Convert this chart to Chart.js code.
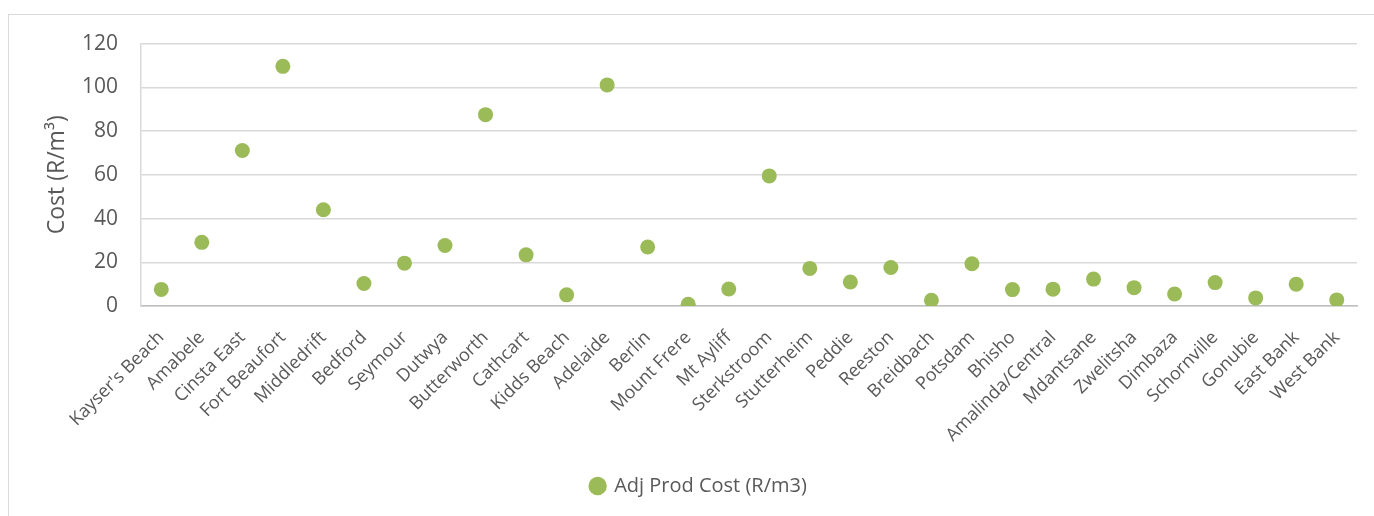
<!DOCTYPE html>
<html>
<head>
<meta charset="utf-8">
<script src="https://cdn.jsdelivr.net/npm/chart.js@4.4.1/dist/chart.umd.min.js"></script>
<style>
    html, body { margin: 0; padding: 0; background: #fff; overflow: hidden; }
    #frame {
        position: absolute;
        left: 8px;
        top: 14px;
        width: 1390px;
        height: 510px;
        border: 1px solid #d9d9d9;
    }
</style>
</head>
<body>
<div id="frame"><canvas id="chartCusto" width="1390" height="510"></canvas></div>
<script>
const locais = ["Kayser's Beach", 'Amabele', 'Cinsta East', 'Fort Beaufort', 'Middledrift', 'Bedford',
    'Seymour', 'Dutwya', 'Butterworth', 'Cathcart', 'Kidds Beach', 'Adelaide', 'Berlin', 'Mount Frere',
    'Mt Ayliff', 'Sterkstroom', 'Stutterheim', 'Peddie', 'Reeston', 'Breidbach', 'Potsdam', 'Bhisho',
    'Amalinda/Central', 'Mdantsane', 'Zwelitsha', 'Dimbaza', 'Schornville', 'Gonubie', 'East Bank', 'West Bank'];

const custoAjustado = [7.6, 29.1, 71.1, 109.6, 44.0, 10.3, 19.6, 27.7, 87.5, 23.4, 5.1, 101.1, 27.0, 0.8,
    7.8, 59.5, 17.2, 11.0, 17.6, 2.6, 19.3, 7.5, 7.7, 12.3, 8.4, 5.5, 10.7, 3.7, 10.0, 2.8];

const ticksY = [0, 20, 40, 60, 80, 100, 120];

const verde = '#9BBB59';
const cinzaTexto = '#595959';
const fonte = "'Open Sans', sans-serif";

const ctx = document.getElementById('chartCusto').getContext('2d');
const grafico = new Chart(ctx, {
    type: 'line',
    data: {
        labels: locais,
        datasets: [{
            label: 'Adj Prod Cost (R/m3)',
            data: custoAjustado,
            showLine: false,
            backgroundColor: verde,
            borderColor: verde,
            pointRadius: 7.5,
            pointBorderWidth: 0,
            pointStyle: 'circle'
        }]
    },
    options: {
        responsive: false,
        animation: false,
        layout: {
            padding: { left: 32, right: 42, top: 20, bottom: 19 }
        },
        scales: {
            x: {
                offset: true,
                grid: { display: false, drawTicks: false },
                border: { display: true, color: '#bfbfbf', width: 1.5 },
                ticks: {
                    autoSkip: false,
                    minRotation: 45,
                    maxRotation: 45,
                    padding: 21,
                    color: cinzaTexto,
                    font: { family: fonte, size: 18 }
                },
                afterFit: (scale) => { scale.height = 160; }
            },
            y: {
                min: 0,
                max: 120,
                afterBuildTicks: (scale) => { scale.ticks = ticksY.map(v => ({ value: v })); },
                // marcas invisíveis só para afastar os rótulos do eixo
                grid: { color: '#d9d9d9', lineWidth: 1.5, drawTicks: true, tickLength: 7, tickColor: 'rgba(0,0,0,0)' },
                border: { display: true, color: '#d9d9d9', width: 1.5 },
                ticks: {
                    padding: 16,
                    color: cinzaTexto,
                    font: { family: fonte, size: 21 }
                },
                title: {
                    display: true,
                    text: 'Cost (R/m³)',
                    color: cinzaTexto,
                    font: { family: fonte, size: 23 },
                    padding: { top: 3, bottom: 4 }
                },
                afterFit: (scale) => { scale.width = 100; }
            }
        },
        plugins: {
            legend: {
                display: true,
                position: 'bottom',
                labels: {
                    usePointStyle: true,
                    boxWidth: 13,
                    boxHeight: 13,
                    padding: 10,
                    color: cinzaTexto,
                    font: { family: fonte, size: 20 }
                }
            },
            tooltip: { enabled: false }
        }
    }
});
</script>
</body>
</html>
